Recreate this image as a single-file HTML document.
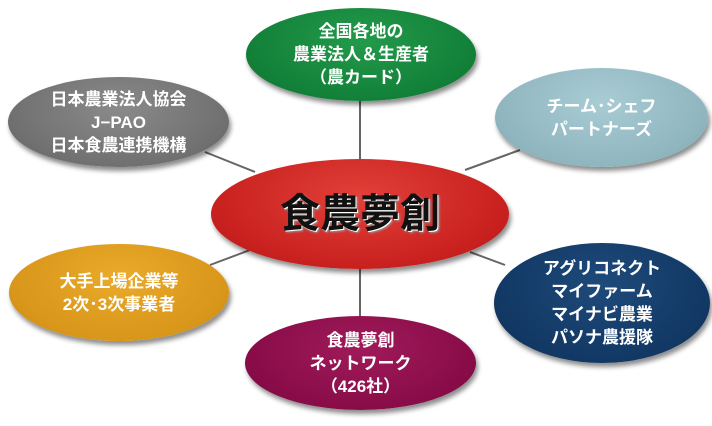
<!DOCTYPE html>
<html><head><meta charset="utf-8"><style>
body{margin:0;width:712px;height:426px;background:#fff;overflow:hidden;position:relative;font-family:"Liberation Sans","Noto Sans CJK JP",sans-serif;}
.e{position:absolute;border-radius:50%;display:flex;align-items:center;justify-content:center;text-align:center;color:#fff;font-weight:bold;font-size:17px;line-height:23px;box-shadow:2px 4px 5px rgba(0,0,0,.45);}
</style></head><body>
<svg width="712" height="426" style="position:absolute;left:0;top:0">
<g stroke="#666" stroke-width="2">
<line x1="360" y1="100" x2="360" y2="165"/>
<line x1="205" y1="152" x2="255" y2="172"/>
<line x1="520" y1="150" x2="465" y2="170"/>
<line x1="210" y1="265" x2="250" y2="250"/>
<line x1="505" y1="265" x2="470" y2="252"/>
<line x1="360" y1="265" x2="360" y2="318"/>
</g></svg>
<div class="e" style="left:211px;top:159px;width:298px;height:110px;background:radial-gradient(ellipse at 50% 35%,#e2403a,#c8201e 70%,#a81a18);font-size:40px;color:#111;text-shadow:1px 1px 0 #fff,2px 2px 2px #999;">食農夢創</div>
<div class="e" style="left:246px;top:8px;width:230px;height:93px;background:radial-gradient(ellipse at 50% 35%,#239a4b,#128038 70%,#0c6a2c);">全国各地の<br>農業法人＆生産者<br>（農カード）</div>
<div class="e" style="left:8px;top:77px;width:221px;height:90px;background:radial-gradient(ellipse at 50% 35%,#8a8a8a,#707070 70%,#5c5c5c);">日本農業法人協会<br>J−PAO<br>日本食農連携機構</div>
<div class="e" style="left:495px;top:68px;width:213px;height:99px;background:radial-gradient(ellipse at 50% 35%,#a9ccd4,#8fb5bf 70%,#7aa2ad);">チーム･シェフ<br>パートナーズ</div>
<div class="e" style="left:9px;top:244px;width:220px;height:97px;background:radial-gradient(ellipse at 50% 35%,#eaaa2a,#d8961a 70%,#c08012);">大手上場企業等<br>2次･3次事業者</div>
<div class="e" style="left:494px;top:243px;width:216px;height:120px;background:radial-gradient(ellipse at 50% 35%,#1e4a7a,#123864 70%,#0c2a50);">アグリコネクト<br>マイファーム<br>マイナビ農業<br>パソナ農援隊</div>
<div class="e" style="left:245px;top:316px;width:231px;height:94px;background:radial-gradient(ellipse at 50% 35%,#a01a5a,#880c48 70%,#700838);">食農夢創<br>ネットワーク<br>（426社）</div>
</body></html>
